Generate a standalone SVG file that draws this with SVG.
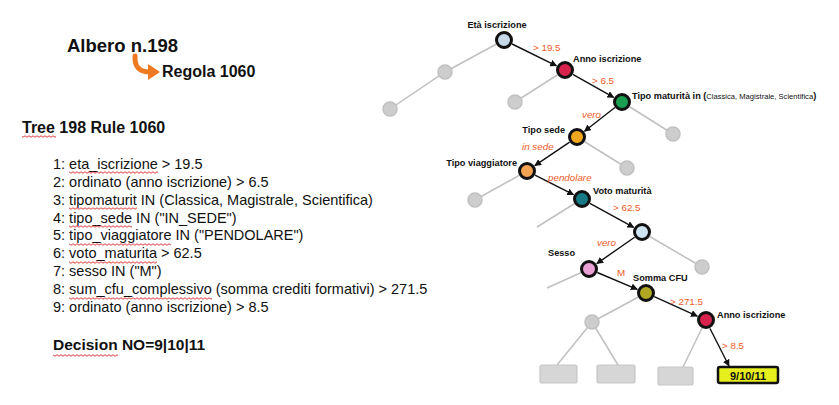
<svg xmlns="http://www.w3.org/2000/svg" width="839" height="405" viewBox="0 0 839 405">
<style>
text{font-family:"Liberation Sans",Arial,sans-serif;fill:#111}
.b{font-weight:bold}
.lst{font-size:14.5px}
.nl{font-weight:bold;font-size:9.2px}
.el{font-size:9.8px;fill:#ef5a2a}
.it{font-style:italic}
.an{stroke:#111;stroke-width:3}
.gn{fill:#cdcdcd;stroke:#c0c0c0;stroke-width:1.5}
.gr{fill:#d6d6d6;stroke:#c6c6c6;stroke-width:1.2}
.ge{stroke:#c0c0c0;stroke-width:1.5;fill:none}
.be{stroke:#111;stroke-width:1.4;fill:none;marker-end:url(#ah)}
.sp{fill:url(#wv)}
</style>
<defs>
<marker id="ah" viewBox="0 0 10 10" refX="9" refY="5" markerWidth="7" markerHeight="7" markerUnits="userSpaceOnUse" orient="auto">
<path d="M0,0 L10,5 L0,10 z" fill="#111"/>
</marker>
<pattern id="wv" width="4" height="3" patternUnits="userSpaceOnUse">
<path d="M0,1.5 Q1,0 2,1.5 T4,1.5" stroke="#e03a3a" stroke-width="1" fill="none"/>
</pattern>
</defs>
<rect width="839" height="405" fill="#ffffff"/>

<g id="title">
<text x="67" y="52" class="b" font-size="18.5">Albero n.198</text>
<path d="M135,56 Q134,72 150,72" stroke="#f07a22" stroke-width="5" fill="none" stroke-linecap="round"/>
<polygon points="148,64 160,72 148,80" fill="#f07a22"/>
<text x="162" y="77" class="b" font-size="16">Regola 1060</text>
</g>

<g id="rule-text">
<text x="22" y="133" class="b" font-size="16">Tree 198 Rule 1060</text>
<rect class="sp" x="22" y="135" width="34" height="3"/>
<text class="lst" x="53" y="169">1: eta_iscrizione &gt; 19.5</text>
<text class="lst" x="53" y="186.9">2: ordinato (anno iscrizione) &gt; 6.5</text>
<text class="lst" x="53" y="204.7">3: tipomaturit IN (Classica, Magistrale, Scientifica)</text>
<text class="lst" x="53" y="222.6">4: tipo_sede IN ("IN_SEDE")</text>
<text class="lst" x="53" y="240.4">5: tipo_viaggiatore IN ("PENDOLARE")</text>
<text class="lst" x="53" y="258.3">6: voto_maturita &gt; 62.5</text>
<text class="lst" x="53" y="276.1">7: sesso IN ("M")</text>
<text class="lst" x="53" y="294">8: sum_cfu_complessivo (somma crediti formativi) &gt; 271.5</text>
<text class="lst" x="53" y="311.8">9: ordinato (anno iscrizione) &gt; 8.5</text>
<rect class="sp" x="69" y="171" width="89" height="3"/>
<rect class="sp" x="69" y="207" width="68" height="3"/>
<rect class="sp" x="69" y="225" width="63" height="3"/>
<rect class="sp" x="69" y="243" width="102" height="3"/>
<rect class="sp" x="69" y="261" width="88" height="3"/>
<rect class="sp" x="69" y="297" width="143" height="3"/>
<text x="53" y="350" class="b" font-size="15.5">Decision NO=9|10|11</text>
<rect class="sp" x="53" y="354" width="65" height="3"/>
</g>

<g id="connectors">
<path class="ge" d="M504,40 L445,72 L390,109"/>
<path class="ge" d="M565,70 L515,102"/>
<path class="ge" d="M622,102 L673,134"/>
<path class="ge" d="M577,137 L627,168"/>
<path class="ge" d="M527,171 L475,200"/>
<path class="ge" d="M582,199 L537,227"/>
<path class="ge" d="M642,232 L702,267"/>
<path class="ge" d="M589,269 L547,288"/>
<path class="ge" d="M646,293 L592,322"/>
<path class="ge" d="M592,322 L557,365 M592,322 L618,365"/>
<path class="ge" d="M706,320 L683,367"/>
<path class="be" d="M512.1,44 L556.5,65.8"/>
<path class="be" d="M572.8,74.4 L613.7,97.4"/>
<path class="be" d="M614.9,107.5 L584.5,131.2"/>
<path class="be" d="M569.6,142.1 L534.8,165.7"/>
<path class="be" d="M535,175.1 L573.5,194.7"/>
<path class="be" d="M589.9,203.3 L633.7,227.4"/>
<path class="be" d="M634.6,237.2 L596.8,263.6"/>
<path class="be" d="M597.3,272.5 L637.2,289.3"/>
<path class="be" d="M654.2,296.7 L697.3,316.1"/>
<path class="be" d="M710,328.5 L729,366"/>
<text class="el" x="533" y="50.5">&gt; 19.5</text>
<text class="el" x="592" y="84">&gt; 6.5</text>
<text class="el it" x="582" y="118">vero</text>
<text class="el it" x="522" y="150">in sede</text>
<text class="el it" x="548" y="181">pendolare</text>
<text class="el" x="613" y="211">&gt; 62.5</text>
<text class="el it" x="597" y="246">vero</text>
<text class="el" x="617" y="276">M</text>
<text class="el" x="670" y="305">&gt; 271.5</text>
<text class="el" x="722" y="348.5">&gt; 8.5</text>
</g>

<g id="gray-nodes">
<circle class="gn" cx="445" cy="72" r="7"/>
<circle class="gn" cx="390" cy="109" r="7"/>
<circle class="gn" cx="515" cy="102" r="7"/>
<circle class="gn" cx="673" cy="134" r="7"/>
<circle class="gn" cx="627" cy="168" r="7"/>
<circle class="gn" cx="475" cy="200" r="7"/>
<circle class="gn" cx="702" cy="267" r="7"/>
<circle class="gn" cx="592" cy="322" r="7"/>
<rect class="gr" x="540" y="365" width="37" height="18" rx="2"/>
<rect class="gr" x="597" y="365" width="38" height="18" rx="2"/>
<rect class="gr" x="658" y="367" width="35" height="18" rx="2"/>
</g>

<g id="n-eta">
<circle class="an" cx="504" cy="40" r="7.5" fill="#c5d9e8"/>
<text class="nl" x="497" y="28" font-size="7.6" text-anchor="middle">Età iscrizione</text>
</g>
<g id="n-anno1">
<circle class="an" cx="565" cy="70" r="7.5" fill="#d6224c"/>
<text class="nl" x="573" y="62">Anno iscrizione</text>
</g>
<g id="n-tipomat">
<circle class="an" cx="622" cy="102" r="7.5" fill="#18a050"/>
<text class="nl" x="632" y="99" font-size="8.8">Tipo maturità in <tspan>(</tspan><tspan font-weight="normal" font-size="7.6">Classica, Magistrale, Scientifica</tspan><tspan>)</tspan></text>
</g>
<g id="n-sede">
<circle class="an" cx="577" cy="137" r="7.5" fill="#f2a81e"/>
<text class="nl" x="565" y="133" text-anchor="end">Tipo sede</text>
</g>
<g id="n-viagg">
<circle class="an" cx="527" cy="171" r="7.5" fill="#f4a352"/>
<text class="nl" x="517" y="166" text-anchor="end" font-size="9.5">Tipo viaggiatore</text>
</g>
<g id="n-voto">
<circle class="an" cx="582" cy="199" r="7.5" fill="#167a86"/>
<text class="nl" x="593" y="193.5" font-size="9.8">Voto maturità</text>
</g>
<g id="n-light">
<circle class="an" cx="642" cy="232" r="7.5" fill="#cfe6f2"/>
</g>
<g id="n-sesso">
<circle class="an" cx="589" cy="269" r="7.5" fill="#eaa2d6"/>
<text class="nl" x="548" y="256">Sesso</text>
</g>
<g id="n-somma">
<circle class="an" cx="646" cy="293" r="7.5" fill="#b0a822"/>
<text class="nl" x="633" y="281">Somma CFU</text>
</g>
<g id="n-anno2">
<circle class="an" cx="706" cy="320" r="7.5" fill="#d6224c"/>
<text class="nl" x="717" y="318">Anno iscrizione</text>
</g>
<g id="leaf">
<rect x="718" y="367" width="60" height="16" rx="2" fill="#e6ee1e" stroke="#111" stroke-width="2.5"/>
<text x="748" y="379.5" class="b" font-size="11" text-anchor="middle">9/10/11</text>
</g>
</svg>
